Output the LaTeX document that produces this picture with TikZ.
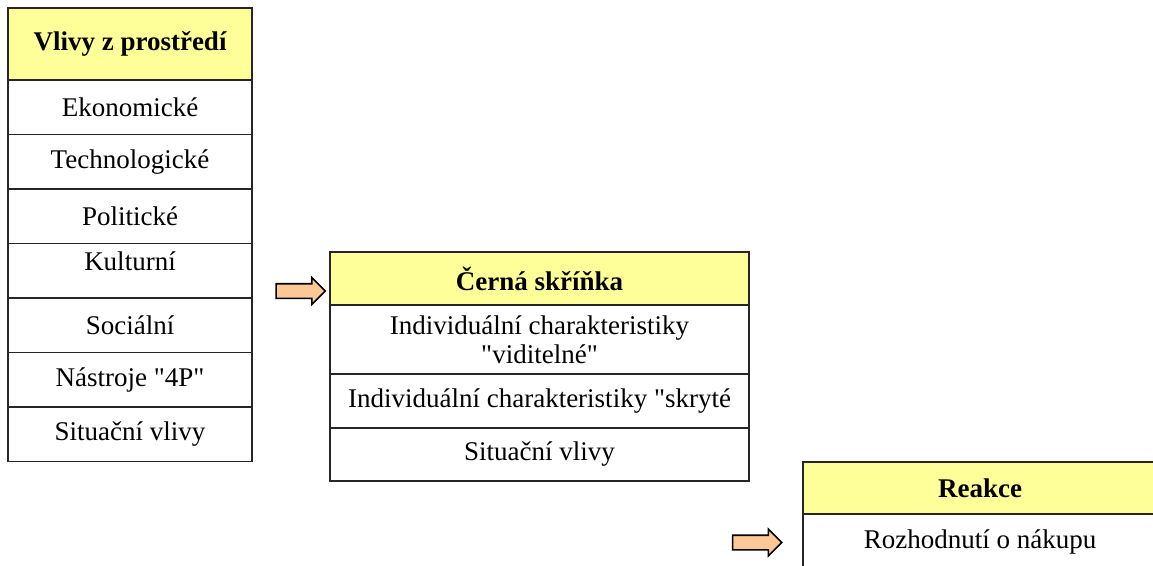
\documentclass[tikz,border=0pt]{standalone}
\usepackage{fontspec}
\setmainfont{Liberation Serif}
\usetikzlibrary{positioning,shapes.arrows}
\definecolor{headyellow}{RGB}{255,255,153}
\definecolor{arrowpeach}{RGB}{251,200,150}
\tikzset{
  cell/.style={draw=black!85, line width=1.3pt, outer sep=0pt, inner sep=0pt,
    align=center, font=\fontsize{27}{29}\selectfont},
  head/.style={cell, fill=headyellow, font=\fontsize{27}{29}\selectfont\bfseries},
  blockarrow/.style={single arrow, draw=black, line width=1.6pt, fill=arrowpeach,
    minimum height=49pt, inner sep=6.5pt, single arrow head extend=6pt,
    single arrow head indent=0pt},
}
\begin{document}
\begin{tikzpicture}[x=1pt, y=-1pt, node distance=0pt]
\useasboundingbox (0,0) rectangle (1153,565);
% vlivy z prostredi
\node [head, minimum width=244pt, minimum height=72pt, anchor=north west] (vlivy) at (8,8) {Vlivy z prostředí};
\node [cell, minimum width=244pt, minimum height=54.5pt, below=of vlivy] (ekon) {Ekonomické};
\node [cell, minimum width=244pt, minimum height=54.5pt, below=of ekon] (tech) {Technologické};
\node [cell, minimum width=244pt, minimum height=54.5pt, below=of tech] (polit) {Politické};
\node [cell, minimum width=244pt, minimum height=54.5pt, below=of polit] (kult) {Kulturní\\[-10pt]\mbox{}};
\node [cell, minimum width=244pt, minimum height=54.5pt, below=of kult] (soc) {Sociální};
\node [cell, minimum width=244pt, minimum height=54.5pt, below=of soc] (nastr) {Nástroje \textquotedbl4P\textquotedbl};
\node [cell, minimum width=244pt, minimum height=54.5pt, below=of nastr] (situ) {Situační vlivy};
% cerna skrinka
\node [head, minimum width=419pt, minimum height=53pt, anchor=north west] (cerna) at (330,252) {Černá skříňka};
\node [cell, minimum width=419pt, minimum height=69pt, below=of cerna] (vidit) {Individuální charakteristiky\\\textquotedbl viditelné\textquotedbl};
\node [cell, minimum width=419pt, minimum height=54pt, below=of vidit] (skryt) {Individuální charakteristiky \textquotedbl skryté};
\node [cell, minimum width=419pt, minimum height=53pt, below=of skryt] (situb) {Situační vlivy};
% reakce
\node [head, minimum width=354pt, minimum height=52pt, anchor=north west] (reakce) at (803,462) {Reakce};
\node [cell, minimum width=354pt, minimum height=56pt, below=of reakce] (nakup) {Rozhodnutí o nákupu};
% sipky
\node [blockarrow] (sipka1) at (297,291) {};
\node [blockarrow] (sipka2) at (753.5,542.5) {};
\end{tikzpicture}
\end{document}
